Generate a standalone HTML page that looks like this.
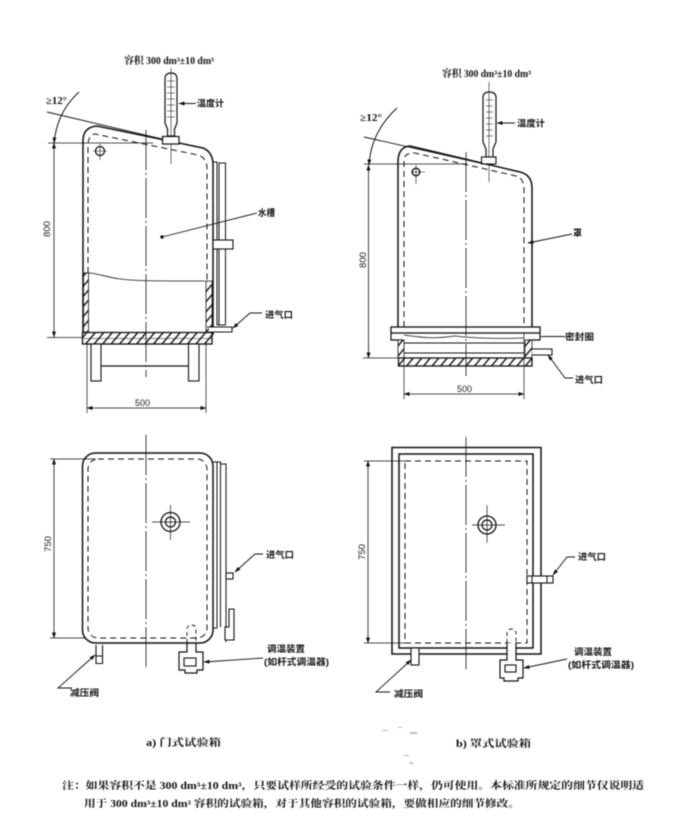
<!DOCTYPE html>
<html><head><meta charset="utf-8"><style>
html,body{margin:0;padding:0;background:#fff;width:699px;height:825px;overflow:hidden}
svg{display:block;filter:blur(.5px)}
text{font-family:"Liberation Serif","Noto Serif CJK SC",serif;fill:#111}
.l{font-size:9px;font-family:"Liberation Sans","Noto Sans CJK SC",sans-serif;font-weight:700}
.n{font-size:10px;font-weight:700}
.d{font-family:"Liberation Sans",sans-serif;font-size:9.500px;fill:#222}
</style></head><body>
<svg width="699" height="825" viewBox="0 0 699 825" xmlns="http://www.w3.org/2000/svg">
<defs>
<pattern id="h" width="6.500" height="7" patternUnits="userSpaceOnUse" patternTransform="rotate(40)"><rect width="6.500" height="7" fill="#fff"/><rect width="1.500" height="7" fill="#222"/></pattern>
<marker id="a" markerWidth="6" markerHeight="4" refX="5.500" refY="2" orient="auto-start-reverse" markerUnits="userSpaceOnUse"><path d="M0 0L6 2L0 4Z" fill="#111"/></marker>
</defs>
<g fill="none" stroke="#111" stroke-width="1">

<!-- LEFT TOP -->
<path d="M83 335V141Q83 127 97 126L203 148Q213 152 213 165V335" stroke-width="1.500"/>
<path d="M88 273V147Q88 134 95 134L198 155Q207 158 207 168V281" stroke-dasharray="6 4" stroke-width="1"/>
<path d="M84 273C95 272 105 277 120 279C135 281 160 281 205 281" stroke-width=".8"/>
<path d="M83.500 273H88.500V332H83.500Z M206 281H212V332H206Z" fill="url(#h)" stroke-width=".8"/>
<rect x="82.500" y="332.500" width="129.500" height="11.500" fill="url(#h)" stroke-width="1.300"/>
<path d="M83 338.500H212" stroke-width=".6"/>
<rect x="91" y="344" width="10" height="37" fill="#fff" stroke-width="1.100"/>
<rect x="188.500" y="344" width="10.500" height="37" fill="#fff" stroke-width="1.100"/>
<path d="M101 366H188" stroke-width="1.200"/>
<path d="M146 130V377" stroke-dasharray="40 3 2 3" stroke-width=".8"/>
<path d="M87 344V413M206 344V413" stroke-width=".7"/>
<path d="M87 408H206" stroke-width=".7" marker-start="url(#a)" marker-end="url(#a)"/>
<path d="M213 162H217V325M219 325V163H225.500V325M217 325H225.500" stroke-width="1"/>
<path d="M207 327H232V332H212" fill="#fff" stroke-width="1.100"/>
<rect x="213" y="240" width="20" height="9" fill="#fff" stroke-width="1.100"/>
<circle cx="100" cy="151" r="4.500" stroke-width="1.300"/>
<path d="M93 151H107M100 144V160" stroke-width=".6"/>
<path d="M165 79Q165 73 171 73Q177 73 177 79V123L174.500 129V136H167.500V129L165 123Z" fill="#fff" stroke-width="1.200"/>
<path d="M171 68V164" stroke-width=".6"/>
<path d="M167 81H175M167 87H175M167 93H175M167 99H175M167 105H175M167 111H175M167 117H175" stroke-width=".6"/>
<rect x="162.500" y="136.500" width="16.500" height="7.500" fill="#fff" stroke-width="1.200"/>
<path d="M47 112L162 139" stroke-width=".9"/>
<path d="M48 143H153" stroke-width=".7"/>
<path d="M79 92Q57 112 54 143" stroke-width="1" marker-end="url(#a)"/>
<path d="M54 143V337" stroke-width=".8" marker-start="url(#a)" marker-end="url(#a)"/>
<path d="M47 337.500H83" stroke-width=".8"/>
<path d="M196 103.500H179" stroke-width=".9" marker-end="url(#a)"/>
<path d="M257 213L162 237" stroke-width=".9"/><circle cx="162" cy="237" r="1.200" fill="#111"/>
<path d="M262 313H250L233 328" stroke-width=".9" marker-end="url(#a)"/>

<!-- RIGHT TOP -->
<path d="M398 327V162Q398 147 410 146L520 172Q532 175 532 188V327" stroke-width="1.500"/>
<path d="M404 327V160Q404 153 415 153L516 176Q524 178 524 190V327" stroke-dasharray="6 4" stroke-width="1"/>
<rect x="391" y="327" width="149" height="6" fill="#fff" stroke-width="1.300"/>
<path d="M391 333V340H403M540 333V340H527" stroke-width="1.200"/>
<path d="M404 335C430 339 440 338 455 336C470 338 500 339 524 338" stroke-width=".8"/>
<path d="M404 343H524M404 353H524" stroke-width="1.100"/>
<path d="M398 340H404V358H398Z M525 340H532V358H525Z" fill="url(#h)" stroke-width=".8"/>
<rect x="398.500" y="358" width="133.500" height="8" fill="url(#h)" stroke-width="1.300"/>
<path d="M404 358V399M524 333V399" stroke-width=".7"/>
<path d="M404 394H524" stroke-width=".7" marker-start="url(#a)" marker-end="url(#a)"/>
<path d="M466 152V376" stroke-dasharray="40 3 2 3" stroke-width=".8"/>
<path d="M532 349H552V355H532" fill="#fff" stroke-width="1.100"/>
<path d="M573 378H565L548 355" stroke-width=".9" marker-end="url(#a)"/>
<path d="M565 336.500H541" stroke-width=".9"/>
<circle cx="416" cy="172" r="3.800" stroke-width="1.400"/>
<path d="M411 172H425M416 165V184" stroke-width=".6"/>
<path d="M483 98Q483 92 489.500 92Q496 92 496 98V142L493 149V157H486V149L483 142Z" fill="#fff" stroke-width="1.200"/>
<path d="M489 82V182" stroke-width=".6"/>
<path d="M486 100H493M486 106H493M486 112H493M486 118H493M486 124H493M486 130H493M486 136H493" stroke-width=".6"/>
<rect x="481.500" y="157" width="14.500" height="7" fill="#fff" stroke-width="1.100"/>
<path d="M364 137L489 165" stroke-width=".9"/>
<path d="M364 164H467" stroke-width=".7"/>
<path d="M397 108Q371 132 369 165" stroke-width="1" marker-end="url(#a)"/>
<path d="M368.500 165V358" stroke-width=".8" marker-start="url(#a)" marker-end="url(#a)"/>
<path d="M363 358H398" stroke-width=".8"/>
<path d="M515 123H497" stroke-width=".9" marker-end="url(#a)"/>
<path d="M572 234L528 243" stroke-width=".9" marker-end="url(#a)"/>

<!-- LEFT BOTTOM -->
<rect x="82.500" y="453" width="130.500" height="190" rx="13" stroke-width="1.500"/>
<rect x="88" y="459" width="119" height="179" rx="10" stroke-dasharray="6 4" stroke-width="1"/>
<path d="M146 435V670" stroke-dasharray="40 3 2 3" stroke-width=".8"/>
<circle cx="170.500" cy="522" r="9.500" stroke-width="1.300"/><circle cx="170.500" cy="522" r="5" stroke-width="1.200"/>
<path d="M152 522H190M170.500 505V540" stroke-width=".7"/>
<path d="M54 459V638" stroke-width=".8" marker-start="url(#a)" marker-end="url(#a)"/>
<path d="M50 459H95M50 638H85" stroke-width=".7"/>
<path d="M213 462H220.500V627M217 462V628H213M220.500 464H226V642" stroke-width="1"/>
<path d="M229 609H234V640H225V627H229Z" fill="#fff" stroke-width="1.100"/>
<rect x="226" y="573" width="7" height="6" fill="#fff" stroke-width="1.100"/>
<path d="M263 554H255L235 572" stroke-width=".9" marker-end="url(#a)"/>
<path d="M96 645V663.500H102.500V645M96 656H102" stroke-width="1.100"/>
<path d="M72 688H58L95 655" stroke-width=".9" marker-end="url(#a)"/>
<path d="M187 643V652H179V670H185V673H197V670H203V652H196V643" stroke-width="1.200"/>
<rect x="184" y="658" width="12" height="8" stroke-width="1.100"/>
<path d="M187 643V630Q187 625 191.500 625Q196 625 196 630V643" stroke-dasharray="4 3" stroke-width=".9"/>
<path d="M263 658L204 662" stroke-width=".9" marker-end="url(#a)"/>

<!-- RIGHT BOTTOM -->
<rect x="392" y="447.500" width="149" height="206.500" stroke-width="1.500"/>
<rect x="399" y="454" width="134" height="194" stroke-width="1.500"/>
<rect x="405" y="461" width="122" height="182" stroke-dasharray="6 4" stroke-width="1"/>
<path d="M466 437V669" stroke-dasharray="40 3 2 3" stroke-width=".8"/>
<circle cx="487" cy="525" r="9" stroke-width="1.300"/><circle cx="487" cy="525" r="5" stroke-width="1.200"/>
<path d="M472 525H505M487 505V543" stroke-width=".7"/>
<path d="M368 461V643" stroke-width=".8" marker-start="url(#a)" marker-end="url(#a)"/>
<path d="M364 461H410M364 643H405" stroke-width=".7"/>
<rect x="527" y="576" width="26" height="7" fill="#fff" stroke-width="1.100"/>
<path d="M532 576V583M547 576V583" stroke-width="1"/>
<path d="M575 557H567L553 575" stroke-width=".9" marker-end="url(#a)"/>
<rect x="411" y="648" width="8" height="17" fill="#fff" stroke-width="1.100"/>
<path d="M390 692H376L411 660" stroke-width=".9" marker-end="url(#a)"/>
<path d="M507 643V660H500V678H504V681H518V678H523V660H516V643" fill="#fff" stroke-width="1.200"/>
<rect x="505" y="665" width="11" height="7" stroke-width="1.100"/>
<path d="M507 643V634Q507 629 511.500 629Q516 629 516 634V643" stroke-dasharray="4 3" stroke-width=".9"/>
<path d="M567 659L524 668" stroke-width=".9" marker-end="url(#a)"/>
</g>

<!-- LABELS -->
<text class="n" x="124" y="64" textLength="90" lengthAdjust="spacingAndGlyphs">容积 300 dm³±10 dm³</text>
<text class="n" x="442" y="77" textLength="89" lengthAdjust="spacingAndGlyphs">容积 300 dm³±10 dm³</text>
<text class="n" x="46" y="104" textLength="21" lengthAdjust="spacingAndGlyphs">≥12°</text>
<text class="n" x="360" y="121" textLength="22" lengthAdjust="spacingAndGlyphs">≥12°</text>
<text class="l" x="197" y="106.500" textLength="27" lengthAdjust="spacingAndGlyphs">温度计</text>
<text class="l" x="517" y="126.500" textLength="28" lengthAdjust="spacingAndGlyphs">温度计</text>
<text class="l" x="258" y="216" textLength="17" lengthAdjust="spacingAndGlyphs">水槽</text>
<text class="l" x="573" y="236">罩</text>
<text class="l" x="265" y="318" textLength="28" lengthAdjust="spacingAndGlyphs">进气口</text>
<text class="l" x="565" y="340" textLength="29" lengthAdjust="spacingAndGlyphs">密封圈</text>
<text class="l" x="575" y="383" textLength="28" lengthAdjust="spacingAndGlyphs">进气口</text>
<text class="l" x="266" y="558" textLength="28" lengthAdjust="spacingAndGlyphs">进气口</text>
<text class="l" x="578" y="560" textLength="28" lengthAdjust="spacingAndGlyphs">进气口</text>
<text class="l" x="70" y="696" textLength="29" lengthAdjust="spacingAndGlyphs">减压阀</text>
<text class="l" x="394" y="697" textLength="29" lengthAdjust="spacingAndGlyphs">减压阀</text>
<text class="l" x="267" y="652" textLength="38" lengthAdjust="spacingAndGlyphs">调温装置</text>
<text class="l" x="264" y="665" textLength="65" lengthAdjust="spacingAndGlyphs">(如杆式调温器)</text>
<text class="l" x="574" y="655" textLength="38" lengthAdjust="spacingAndGlyphs">调温装置</text>
<text class="l" x="568" y="668" textLength="66" lengthAdjust="spacingAndGlyphs">(如杆式调温器)</text>
<text class="d" x="135" y="406" textLength="15" lengthAdjust="spacingAndGlyphs">500</text>
<text class="d" x="457" y="392" textLength="15" lengthAdjust="spacingAndGlyphs">500</text>
<text class="d" transform="translate(50 237) rotate(-90)" textLength="16" lengthAdjust="spacingAndGlyphs">800</text>
<text class="d" transform="translate(366 268) rotate(-90)" textLength="16" lengthAdjust="spacingAndGlyphs">800</text>
<text class="d" transform="translate(51 552) rotate(-90)" textLength="16" lengthAdjust="spacingAndGlyphs">750</text>
<text class="d" transform="translate(365 560) rotate(-90)" textLength="16" lengthAdjust="spacingAndGlyphs">750</text>
<text class="n" x="146" y="746" textLength="75" lengthAdjust="spacingAndGlyphs">a) 门式试验箱</text>
<text class="n" x="456" y="747" textLength="75" lengthAdjust="spacingAndGlyphs">b) 罩式试验箱</text>
<text class="n" x="62" y="789" textLength="582" lengthAdjust="spacingAndGlyphs">注：如果容积不是 300 dm³±10 dm³，只要试样所经受的试验条件一样，仍可使用。本标准所规定的细节仅说明适</text>
<text class="n" x="84" y="807" textLength="436" lengthAdjust="spacingAndGlyphs">用于 300 dm³±10 dm³ 容积的试验箱，对于其他容积的试验箱，要做相应的细节修改。</text>
<g fill="#bbb"><rect x="382" y="730" width="6" height="1"/><rect x="398" y="727" width="4" height="1"/><rect x="410" y="732" width="7" height="2"/><rect x="404" y="755" width="5" height="1"/><rect x="410" y="762" width="3" height="2"/></g>
</svg>
</body></html>
